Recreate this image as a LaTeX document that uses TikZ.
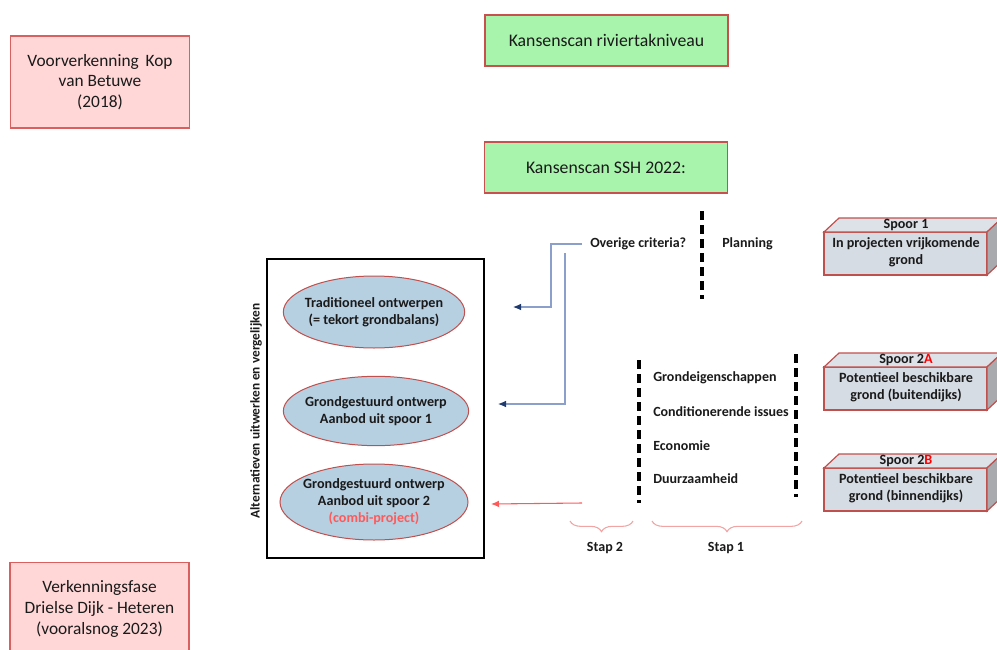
\documentclass[tikz,border=0pt]{standalone}
\usepackage{fontspec}
\setmainfont{Carlito}
\usetikzlibrary{arrows.meta,decorations.pathreplacing,shapes.geometric}
\definecolor{pinkfill}{HTML}{FFD7D7}
\definecolor{pinkdraw}{HTML}{D9605E}
\definecolor{greenfill}{HTML}{A8F4AC}
\definecolor{greendraw}{HTML}{C8504D}
\definecolor{ellfill}{HTML}{B6CFE1}
\definecolor{elldraw}{HTML}{C0504D}
\definecolor{frontfill}{HTML}{D6DCE4}
\definecolor{topfill}{HTML}{DDE2E8}
\definecolor{sidefill}{HTML}{A8AAAE}
\definecolor{cubedraw}{HTML}{C0504D}
\definecolor{blueline}{HTML}{8C9FCA}
\definecolor{navyhead}{HTML}{1F3A6E}
\definecolor{redline}{HTML}{FF5A5A}
\definecolor{bracecol}{HTML}{F2A3A3}
\definecolor{txt}{HTML}{1A1A1A}
\newcommand\spoorbox[4]{%
  \draw[cubeline, fill=frontfill] (824,#1) rectangle (987,{#1+43});
  \draw[cubeline, fill=topfill] (824,#1) -- (839,{#1-14}) -- (1002,{#1-14}) -- (987,#1) -- cycle;
  \draw[cubeline, fill=sidefill] (987,#1) -- (1002,{#1-14}) -- (1002,{#1+29}) -- (987,{#1+43}) -- cycle;
  \node[spoortxt] (#4t) at (906,{#1-7}) {#2};
  \node[spoortxt] (#4) at (906,{#1+20}) {#3};
}
\begin{document}
\begin{tikzpicture}[x=0.75pt,y=-0.75pt,
  pinkbox/.style={draw=pinkdraw, fill=pinkfill, line width=0.9pt, minimum width=134.25pt, minimum height=69pt, inner sep=0pt, align=center, text=txt, font=\fontsize{13}{15.5}\selectfont},
  greenbox/.style={draw=greendraw, fill=greenfill, line width=0.9pt, minimum width=182.25pt, minimum height=38.25pt, inner sep=0pt, text=txt, font=\fontsize{13.3}{15}\selectfont},
  ell/.style={ellipse, draw=elldraw, fill=ellfill, line width=0.75pt, minimum width=138pt, minimum height=52pt, inner xsep=-6pt, inner ysep=-3pt, align=center, text=txt, font=\bfseries\fontsize{10.6}{12.8}\selectfont},
  lbl/.style={inner sep=0pt, text=txt, font=\bfseries\fontsize{10.5}{12}\selectfont},
  cubeline/.style={draw=cubedraw, line width=0.9pt},
  spoortxt/.style={inner sep=0pt, align=center, text=txt, font=\bfseries\fontsize{10.6}{12.8}\selectfont},
  dashv/.style={line width=2.5pt, dash pattern=on 6.5pt off 4pt},
  conn/.style={draw=blueline, line width=0.8pt, -{Latex[length=6pt,width=5pt,color=navyhead]}},
  redconn/.style={draw=redline, line width=0.8pt, -{Latex[length=6pt,width=5pt,color=redline]}},
  bracestyle/.style={draw=bracecol, line width=0.8pt, decorate, decoration={brace, mirror, amplitude=8pt}}
]
\useasboundingbox (0,0) rectangle (997,650);
\clip (0,0) rectangle (997,650);

% left boxes
\node[pinkbox] (voor) at (100,82) {Voorverkenning\, Kop\\van Betuwe\\(2018)};
\node[pinkbox, minimum height=70pt] (verk) at (99.5,609) {Verkenningsfase\\Drielse Dijk - Heteren\\(vooralsnog 2023)};

% green boxes
\node[greenbox] (kr) at (606.5,40.5) {Kansenscan riviertakniveau};
\node[greenbox] (ks) at (606,167.5) {Kansenscan SSH 2022:};

% alternatives frame
\draw[line width=1.5pt] (267,259) rectangle (484,558);
\node[rotate=90, inner sep=0pt, text=txt, font=\bfseries\fontsize{10}{11}\selectfont] (alt) at (256,411) {Alternatieven uitwerken en vergelijken};

\node[ell, minimum width=136pt, minimum height=54pt] (e1) at (374,312) {Traditioneel ontwerpen\\(= tekort grondbalans)};
\node[ell, minimum width=139pt, minimum height=52pt] (e2) at (376,411) {Grondgestuurd ontwerp\\Aanbod uit spoor 1};
\node[ell, minimum width=141pt, minimum height=57pt] (e3) at (374,502) {Grondgestuurd ontwerp\\Aanbod uit spoor 2\\\textcolor{redline}{(combi-project)}};

% criteria
\node[lbl, anchor=west] (ov) at (590,244) {Overige criteria?};
\node[lbl, anchor=west] (plan) at (722,244) {Planning};
\node[lbl, anchor=west] (g1) at (653,378) {Grondeigenschappen};
\node[lbl, anchor=west] (g2) at (653,412) {Conditionerende issues};
\node[lbl, anchor=west] (g3) at (653,446) {Economie};
\node[lbl, anchor=west] (g4) at (653,479) {Duurzaamheid};

\draw[dashv] (702,211) -- (702,299);
\draw[dashv] (639,360) -- (639,503);
\draw[dashv] (796,354) -- (796,497);

% connectors
\coordinate (c1) at (513,307);
\coordinate (c2s) at (565,253);
\coordinate (c2) at (498,404);
\coordinate (c3s) at (582,503);
\coordinate (c3) at (491,504);
\draw[conn] ([xshift=-6pt]ov.west) -- (551,244) -- (551,307) -- (c1);
\draw[conn] (c2s) -- (565,404) -- (c2);
\draw[redconn] (c3s) -- (c3);

% braces
\draw[bracestyle] (570,521) -- (633,521);
\draw[bracestyle] (652,521) -- (802,521);
\node[lbl] (st2) at (605,548) {Stap 2};
\node[lbl] (st1) at (726,548) {Stap 1};

% spoor boxes
\spoorbox{232}{Spoor 1}{In projecten vrijkomende\\grond}{s1}
\spoorbox{367}{Spoor 2\textcolor{red}{A}}{Potentieel beschikbare\\grond (buitendijks)}{s2a}
\spoorbox{468}{Spoor 2\textcolor{red}{B}}{Potentieel beschikbare\\grond (binnendijks)}{s2b}
\end{tikzpicture}
\end{document}
